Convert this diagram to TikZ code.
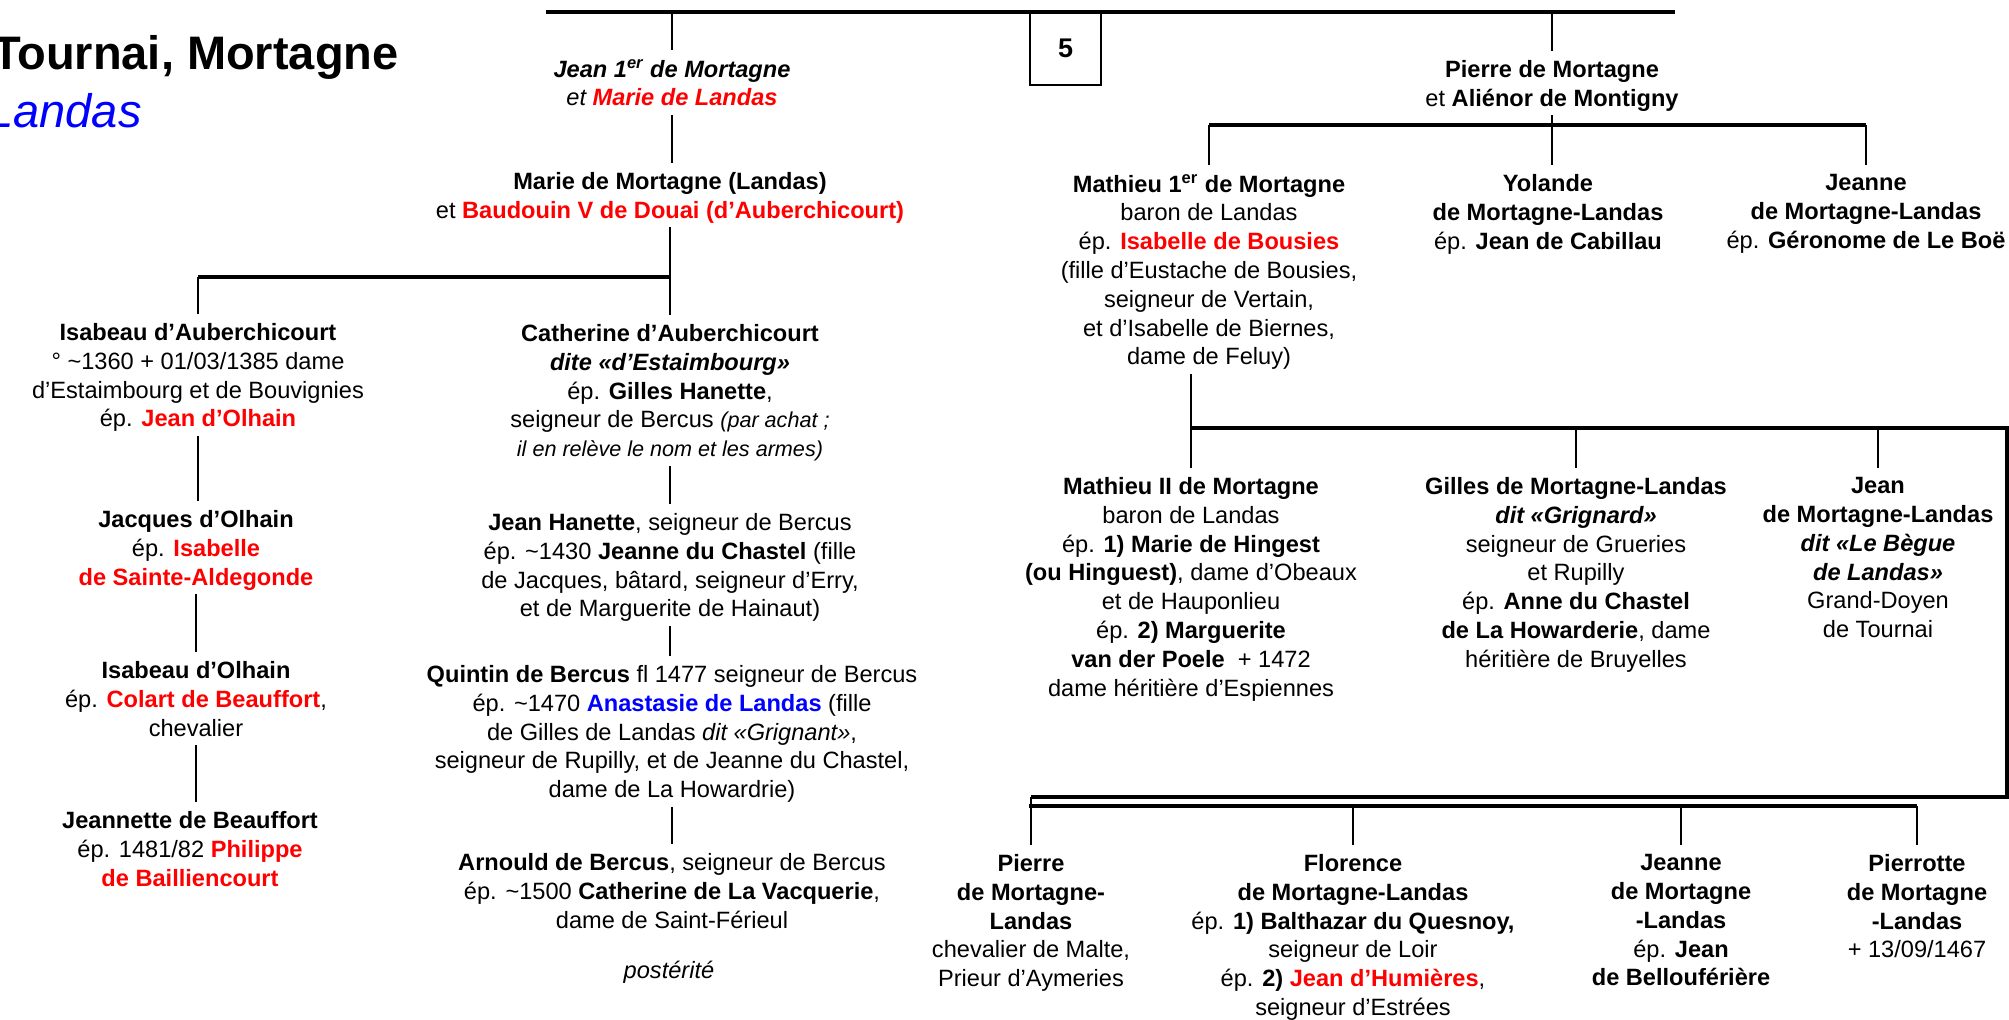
\documentclass[tikz,border=0pt]{standalone}
\usepackage{fontspec}
\setmainfont{Liberation Sans}

\newcommand{\rd}[1]{\textcolor{red}{\textbf{#1}}}
\newcommand{\bl}[1]{\textcolor{blue}{\textbf{#1}}}
\newcommand{\circa}{\textasciitilde}
\newcommand{\petit}[1]{{\fontsize{10.8}{14.4}\selectfont\itshape #1}}

\begin{document}
\begin{tikzpicture}[x=0.5pt,y=-0.5pt,
	person/.style={align=center,inner sep=0pt,anchor=north,font=\fontsize{11.8}{14.4}\selectfont,
		execute at begin node=\strut,execute at end node=\strut},
	bus/.style={line width=1.6pt},
	link/.style={line width=1pt,shorten >=4.5pt}]

\useasboundingbox (0,0) rectangle (2009,1019);

\node[anchor=base east,inner sep=0pt,font=\fontsize{23.5}{28}\selectfont\bfseries]   (titre)   at (399,69)   {Tournai, Mortagne};
\node[anchor=base east,inner sep=0pt,font=\fontsize{23.5}{28}\selectfont\itshape,text=blue]   (soustitre)   at (142,127)   {Landas};
\node[draw,line width=0.7pt,minimum width=35.5pt,minimum height=36.5pt,inner sep=0pt,font=\fontsize{13.5}{15}\selectfont\bfseries]   (planche)   at (1065.5,48.5)   {5};

\node[person]   (jean)   at (672,59)   {{\bfseries\itshape Jean 1\textsuperscript{er} de Mortagne}\\ {\itshape et \textcolor{red}{\bfseries Marie de Landas}}};
\node[person]   (marie)   at (670,172)   {\textbf{Marie de Mortagne (Landas)}\\ et \rd{Baudouin V de Douai (d’Auberchicourt)}};

\node[person]   (isab1)   at (198,323)   {\textbf{Isabeau d’Auberchicourt}\\ ° \circa1360 + 01/03/1385 dame\\ d’Estaimbourg et de Bouvignies\\ ép. \rd{Jean d’Olhain}};
\node[person]   (jacques)   at (196,510)   {\textbf{Jacques d’Olhain}\\ ép. \rd{Isabelle}\\ \rd{de Sainte-Aldegonde}};
\node[person]   (isab2)   at (196,661)   {\textbf{Isabeau d’Olhain}\\ ép. \rd{Colart de Beauffort},\\ chevalier};
\node[person]   (jeannette)   at (190,811)   {\textbf{Jeannette de Beauffort}\\ ép. 1481/82 \rd{Philippe}\\ \rd{de Bailliencourt}};

\node[person]   (catherine)   at (670,324)   {\textbf{Catherine d’Auberchicourt}\\ \textbf{\textit{dite «d’Estaimbourg»}}\\ ép. \textbf{Gilles Hanette},\\ seigneur de Bercus \petit{(par achat ;}\\ \petit{il en relève le nom et les armes)}};
\node[person]   (hanette)   at (670,513)   {\textbf{Jean Hanette}, seigneur de Bercus\\ ép. \circa1430 \textbf{Jeanne du Chastel} (fille\\ de Jacques, bâtard, seigneur d’Erry,\\ et de Marguerite de Hainaut)};
\node[person]   (quintin)   at (672,665)   {\textbf{Quintin de Bercus} fl 1477 seigneur de Bercus\\ ép. \circa1470 \bl{Anastasie de Landas} (fille\\ de Gilles de Landas \textit{dit «Grignant»},\\ seigneur de Rupilly, et de Jeanne du Chastel,\\ dame de La Howardrie)};
\node[person]   (arnould)   at (672,853)   {\textbf{Arnould de Bercus}, seigneur de Bercus\\ ép. \circa1500 \textbf{Catherine de La Vacquerie},\\ dame de Saint-Férieul};
\node[person]   (posterite)   at (669,958)   {\textit{postérité}};

\node[person]   (pierre)   at (1552,60)   {\textbf{Pierre de Mortagne}\\ et \textbf{Aliénor de Montigny}};
\node[person]   (mathieu1)   at (1209,174)   {\textbf{Mathieu 1\textsuperscript{er} de Mortagne}\\ baron de Landas\\ ép. \rd{Isabelle de Bousies}\\ (fille d’Eustache de Bousies,\\ seigneur de Vertain,\\ et d’Isabelle de Biernes,\\ dame de Feluy)};
\node[person]   (yolande)   at (1548,174)   {\textbf{Yolande}\\ \textbf{de Mortagne-Landas}\\ ép. \textbf{Jean de Cabillau}};
\node[person]   (jeanne1)   at (1866,174)   {\textbf{Jeanne}\\ \textbf{de Mortagne-Landas}\\ ép. \textbf{Géronome de Le Boë}};

\node[person]   (mathieu2)   at (1191,477)   {\textbf{Mathieu II de Mortagne}\\ baron de Landas\\ ép. \textbf{1) Marie de Hingest}\\ \textbf{(ou Hinguest)}, dame d’Obeaux\\ et de Hauponlieu\\ ép. \textbf{2) Marguerite}\\ \textbf{van der Poele}\ \ + 1472\\ dame héritière d’Espiennes};
\node[person]   (gilles)   at (1576,477)   {\textbf{Gilles de Mortagne-Landas}\\ \textbf{\textit{dit «Grignard»}}\\ seigneur de Grueries\\ et Rupilly\\ ép. \textbf{Anne du Chastel}\\ \textbf{de La Howarderie}, dame\\ héritière de Bruyelles};
\node[person]   (jeanb)   at (1878,477)   {\textbf{Jean}\\ \textbf{de Mortagne-Landas}\\ \textbf{\textit{dit «Le Bègue}}\\ \textbf{\textit{de Landas»}}\\ Grand-Doyen\\ de Tournai};

\node[person]   (pierre2)   at (1031,854)   {\textbf{Pierre}\\ \textbf{de Mortagne-}\\ \textbf{Landas}\\ chevalier de Malte,\\ Prieur d’Aymeries};
\node[person]   (florence)   at (1353,854)   {\textbf{Florence}\\ \textbf{de Mortagne-Landas}\\ ép. \textbf{1) Balthazar du Quesnoy,}\\ seigneur de Loir\\ ép. \textbf{2)} \rd{Jean d’Humières},\\ seigneur d’Estrées};
\node[person]   (jeanne2)   at (1681,854)   {\textbf{Jeanne}\\ \textbf{de Mortagne}\\ \textbf{-Landas}\\ ép. \textbf{Jean}\\ \textbf{de Bellouférière}};
\node[person]   (pierrotte)   at (1917,854)   {\textbf{Pierrotte}\\ \textbf{de Mortagne}\\ \textbf{-Landas}\\ + 13/09/1467};

\coordinate (hautG) at (546,12);
\coordinate (hautD) at (1675,12);
\coordinate (busA) at (198,277);
\coordinate (busP) at (1209,125);
\coordinate (busM) at (1191,428);
\coordinate (coinH) at (2007,428);
\coordinate (coinB) at (2007,797);
\coordinate (busE) at (1029,806);

\draw[bus] (hautG) -- (hautD);
\draw[bus] (busA) -- (marie.south |- busA);
\draw[bus] (busP) -- (jeanne1.north |- busP);
\draw[bus] (busM) -- (coinH) -- (coinB) -- (pierre2.north |- coinB);
\draw[bus] (busE) -- (pierrotte.north |- busE);

\path[link] (jean.north |- hautG) edge (jean.north)
			(pierre.north |- hautG) edge (pierre.north)
			(jean.south) edge (jean.south |- marie.north)
			(marie.south) edge (marie.south |- catherine.north)
			(busA) edge (isab1.north)
			(isab1.south) edge (isab1.south |- jacques.north)
			(jacques.south) edge (jacques.south |- isab2.north)
			(isab2.south) edge (isab2.south |- jeannette.north)
			(catherine.south) edge (catherine.south |- hanette.north)
			(hanette.south) edge (hanette.south |- quintin.north)
			(quintin.south) edge (quintin.south |- arnould.north);

\path[link] (pierre.south) edge (pierre.south |- yolande.north)
			(busP) edge (mathieu1.north)
			(jeanne1.north |- busP) edge (jeanne1.north)
			(mathieu2.north |- mathieu1.south) edge (mathieu2.north)
			(gilles.north |- busM) edge (gilles.north)
			(jeanb.north |- busM) edge (jeanb.north)
			(pierre2.north |- coinB) edge (pierre2.north)
			(florence.north |- busE) edge (florence.north)
			(jeanne2.north |- busE) edge (jeanne2.north)
			(pierrotte.north |- busE) edge (pierrotte.north);

\end{tikzpicture}
\end{document}
